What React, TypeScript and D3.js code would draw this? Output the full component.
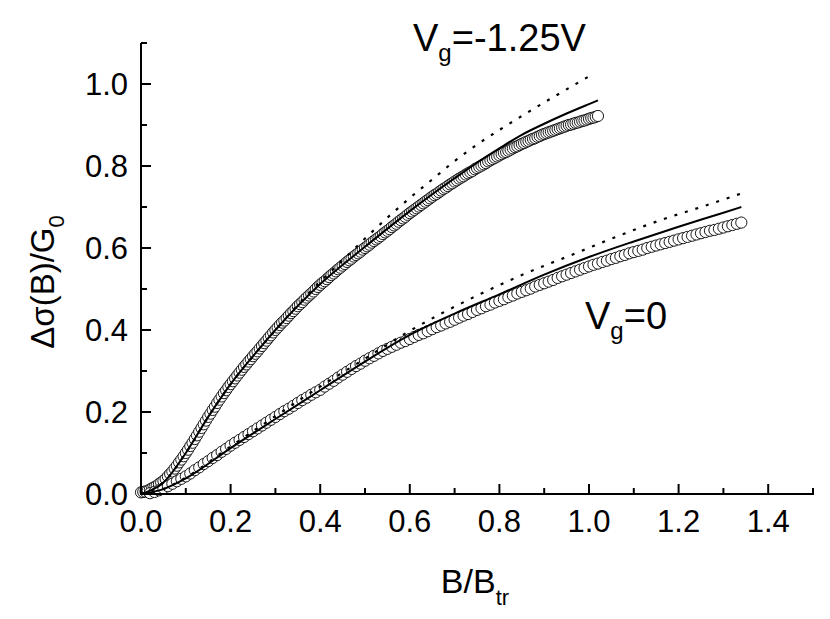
import React from "react";
import * as d3 from "d3";

// ---- data ----
// Vg = -1.25 V measured points: B/Btr sampled from 0 with step 0.005
const b1Start = 0;
const b1Step = 0.005;
const sigma1 = [
  0.004,0.005,0.006,0.008,0.011,0.014,0.017,0.020,0.024,0.028,
  0.032,0.037,0.043,0.049,0.055,0.062,0.069,0.077,0.084,0.092,
  0.100,0.108,0.117,0.125,0.134,0.143,0.152,0.161,0.170,0.179,
  0.188,0.196,0.205,0.213,0.222,0.230,0.238,0.246,0.253,0.261,
  0.268,0.275,0.282,0.289,0.296,0.303,0.310,0.316,0.323,0.329,
  0.336,0.342,0.348,0.355,0.361,0.368,0.374,0.381,0.387,0.394,
  0.400,0.406,0.412,0.418,0.423,0.429,0.435,0.441,0.446,0.452,
  0.458,0.463,0.468,0.474,0.479,0.484,0.489,0.494,0.500,0.505,
  0.510,0.515,0.519,0.524,0.529,0.534,0.538,0.543,0.548,0.552,
  0.557,0.561,0.566,0.570,0.574,0.579,0.583,0.587,0.591,0.596,
  0.600,0.604,0.608,0.613,0.617,0.621,0.625,0.629,0.634,0.638,
  0.642,0.646,0.651,0.655,0.659,0.664,0.668,0.672,0.676,0.681,
  0.685,0.689,0.693,0.697,0.701,0.705,0.709,0.713,0.717,0.721,
  0.725,0.729,0.732,0.736,0.740,0.744,0.747,0.751,0.755,0.758,
  0.762,0.765,0.769,0.772,0.775,0.779,0.782,0.785,0.788,0.792,
  0.795,0.798,0.801,0.804,0.807,0.811,0.814,0.817,0.820,0.823,
  0.826,0.829,0.832,0.834,0.837,0.840,0.843,0.846,0.848,0.851,
  0.854,0.856,0.859,0.861,0.864,0.866,0.868,0.871,0.873,0.876,
  0.878,0.880,0.882,0.884,0.886,0.888,0.890,0.892,0.894,0.896,
  0.898,0.900,0.901,0.903,0.905,0.906,0.908,0.910,0.911,0.913,
  0.915,0.917,0.918,0.920,0.922,
];

// Vg = 0 measured points: B/Btr sampled from 0.02 with step 0.01
const b2Start = 0.02;
const b2Step = 0.01;
const sigma2 = [
  0.002,0.005,0.009,0.014,0.019,0.025,0.031,0.037,0.043,
  0.050,0.058,0.065,0.073,0.080,0.088,0.095,0.103,0.110,0.118,
  0.125,0.132,0.139,0.146,0.153,0.160,0.167,0.174,0.181,0.188,
  0.195,0.202,0.208,0.215,0.222,0.229,0.235,0.242,0.248,0.254,
  0.262,0.269,0.276,0.284,0.291,0.298,0.305,0.312,0.318,0.325,
  0.331,0.337,0.343,0.349,0.354,0.359,0.364,0.369,0.373,0.378,
  0.383,0.388,0.392,0.397,0.402,0.407,0.411,0.416,0.420,0.425,
  0.430,0.435,0.439,0.444,0.449,0.453,0.458,0.462,0.467,0.471,
  0.475,0.480,0.484,0.489,0.493,0.497,0.501,0.506,0.510,0.514,
  0.518,0.522,0.527,0.531,0.535,0.539,0.543,0.547,0.551,0.555,
  0.559,0.562,0.566,0.569,0.573,0.576,0.580,0.583,0.587,0.590,
  0.593,0.596,0.600,0.603,0.606,0.609,0.612,0.615,0.618,0.621,
  0.624,0.627,0.630,0.633,0.636,0.639,0.642,0.644,0.647,0.650,
  0.653,0.656,0.659,0.662,
];

// Solid fit curves
const fit1B = [0, 0.05, 0.1, 0.15, 0.2, 0.25, 0.3, 0.4, 0.5, 0.6, 0.7, 0.75, 0.8, 0.85, 0.9, 0.95, 1.0, 1.02];
const fit1S = [0, 0.028, 0.1, 0.188, 0.268, 0.336, 0.4, 0.512, 0.603, 0.69, 0.77, 0.808, 0.843, 0.876, 0.903, 0.928, 0.951, 0.96];
const fit2B = [0, 0.05, 0.1, 0.2, 0.3, 0.4, 0.5, 0.6, 0.7, 0.8, 0.9, 1.0, 1.1, 1.2, 1.3, 1.34];
const fit2S = [0, 0.012, 0.038, 0.112, 0.183, 0.253, 0.323, 0.388, 0.44, 0.487, 0.535, 0.578, 0.616, 0.652, 0.686, 0.7];

// Dotted curves
const dot1B = [0, 0.05, 0.1, 0.15, 0.2, 0.25, 0.3, 0.4, 0.45, 0.5, 0.55, 0.6, 0.65, 0.7, 0.75, 0.8, 0.85, 0.9, 0.95, 1.01];
const dot1S = [0, 0.028, 0.1, 0.188, 0.268, 0.336, 0.4, 0.518, 0.57, 0.623, 0.674, 0.722, 0.767, 0.812, 0.852, 0.888, 0.922, 0.955, 0.987, 1.025];
const dot2B = [0, 0.05, 0.1, 0.2, 0.3, 0.4, 0.5, 0.58, 0.67, 0.76, 0.85, 0.97, 1.06, 1.16, 1.25, 1.34];
const dot2S = [0, 0.012, 0.04, 0.116, 0.19, 0.262, 0.33, 0.385, 0.44, 0.489, 0.534, 0.587, 0.627, 0.668, 0.7, 0.733];

const xDomain = [0, 1.5];
const yDomain = [0, 1.1];

const FONT = "'Liberation Sans', Arial, Helvetica, sans-serif";

export default function App() {
  const W = 830;
  const H = 619;
  const x = d3.scaleLinear().domain(xDomain).range([141, 813]);
  const y = d3.scaleLinear().domain(yDomain).range([494, 43]);
  const fmt = d3.format(".1f");

  const pts1 = sigma1.map((s, i) => [b1Start + i * b1Step, s] as [number, number]);
  const pts2 = sigma2.map((s, i) => [b2Start + i * b2Step, s] as [number, number]);

  const line = d3
    .line<[number, number]>()
    .x((d) => x(d[0]))
    .y((d) => y(d[1]))
    .curve(d3.curveMonotoneX);

  const zip = (a: number[], b: number[]) => a.map((v, i) => [v, b[i]] as [number, number]);

  const xTicks = d3.range(0, 16).map((i) => i / 10);
  const yTicks = d3.range(0, 12).map((i) => i / 10);

  return (
    <svg width={W} height={H} style={{ display: "block", position: "absolute", left: 0, top: 0 }}>
      <rect width={W} height={H} fill="#fff" />

      {/* markers */}
      <g stroke="#000" strokeWidth={0.9} fill="#fff">
        {pts1.map((d, i) => (
          <circle key={"a" + i} cx={x(d[0])} cy={y(d[1])} r={5.6} />
        ))}
        {pts2.map((d, i) => (
          <circle key={"b" + i} cx={x(d[0])} cy={y(d[1])} r={5.6} />
        ))}
      </g>

      {/* fits */}
      <g fill="none" stroke="#000">
        <path d={line(zip(fit1B, fit1S)) || ""} strokeWidth={2} />
        <path d={line(zip(fit2B, fit2S)) || ""} strokeWidth={2} />
        <path d={line(zip(dot1B, dot1S)) || ""} strokeWidth={2.2} strokeDasharray="3 8" />
        <path d={line(zip(dot2B, dot2S)) || ""} strokeWidth={2.2} strokeDasharray="3 8" />
      </g>

      {/* axes */}
      <g stroke="#000" strokeWidth={2} fill="none">
        <line x1={x(0)} x2={x(1.5) + 1} y1={y(0)} y2={y(0)} />
        <line x1={x(0)} x2={x(0)} y1={y(0) + 1} y2={y(1.1)} />
        {xTicks.map((t, i) => (
          <line key={"xt" + i} x1={x(t)} x2={x(t)} y1={y(0)} y2={y(0) - (i % 2 === 0 ? 10 : 6)} />
        ))}
        {yTicks.map((t, i) => (
          <line key={"yt" + i} x1={x(0)} x2={x(0) + (i % 2 === 0 ? 10 : 6)} y1={y(t)} y2={y(t)} />
        ))}
      </g>

      <g fontFamily={FONT} fontSize={31} fill="#000">
        {xTicks.filter((_, i) => i % 2 === 0 && i < 15).map((t) => (
          <text key={"xl" + t} x={x(t)} y={y(0) + 38} textAnchor="middle">
            {fmt(t)}
          </text>
        ))}
        {yTicks.filter((_, i) => i % 2 === 0).map((t) => (
          <text key={"yl" + t} x={x(0) - 13} y={y(t) + 11} textAnchor="end">
            {fmt(t)}
          </text>
        ))}
      </g>

      {/* axis titles */}
      <text fontFamily={FONT} fontSize={34} x={475} y={593} textAnchor="middle">
        B/B<tspan fontSize={22} dy={12}>tr</tspan>
      </text>
      <text
        fontFamily={FONT}
        fontSize={33}
        transform="translate(54,282) rotate(-90)"
        textAnchor="middle"
      >
        Δσ(B)/G<tspan fontSize={22} dy={10}>0</tspan>
      </text>

      {/* annotations */}
      <text fontFamily={FONT} fontSize={38} x={413} y={51}>
        V<tspan fontSize={24} dy={10}>g</tspan>
        <tspan dy={-10}>=-1.25V</tspan>
      </text>
      <text fontFamily={FONT} fontSize={38} x={585} y={329}>
        V<tspan fontSize={24} dy={10}>g</tspan>
        <tspan dy={-10}>=0</tspan>
      </text>
    </svg>
  );
}
